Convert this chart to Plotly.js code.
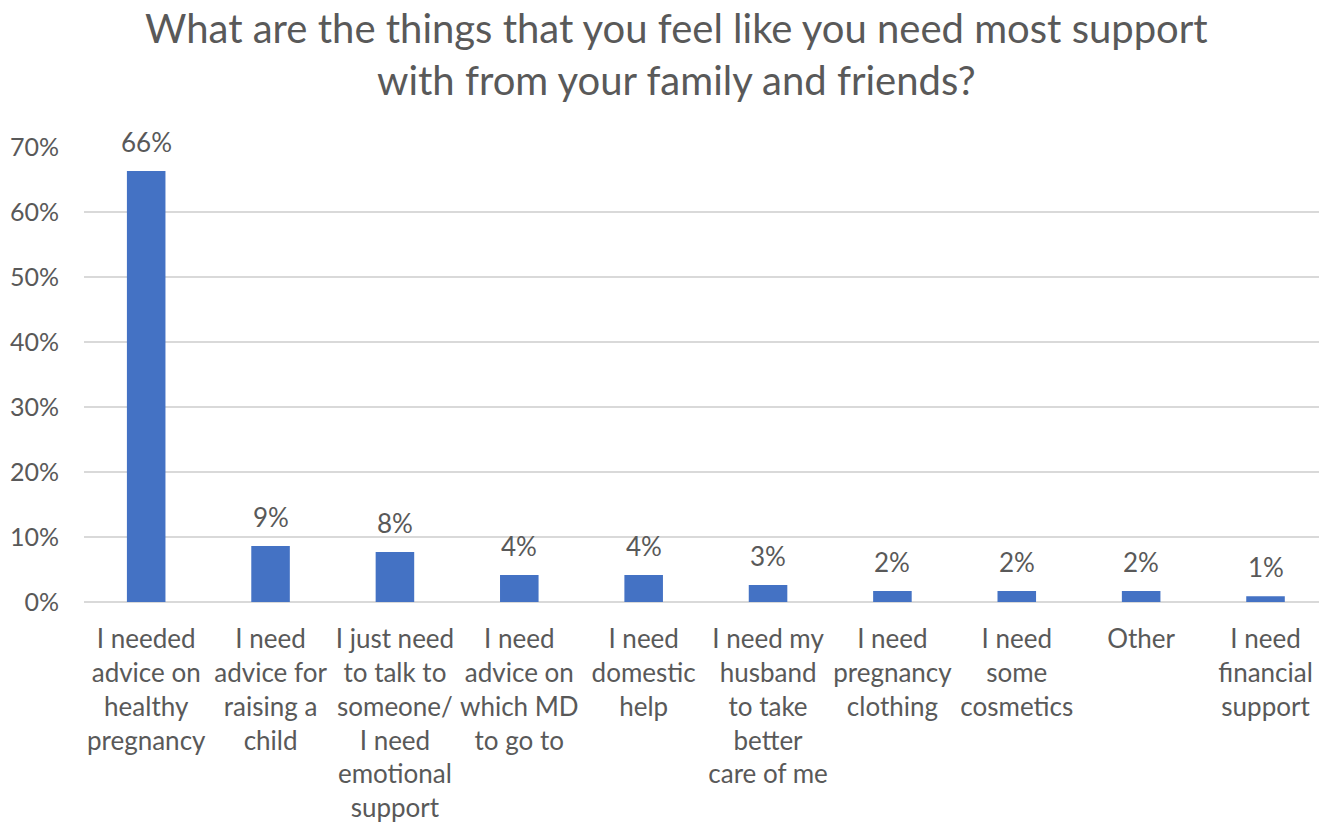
<!DOCTYPE html>
<html>
<head>
<meta charset="utf-8">
<script src="https://cdn.plot.ly/plotly-3.0.1.min.js"></script>
<style>html,body{margin:0;padding:0;background:#fff;}#chart{width:1319px;height:822px;}</style>
</head>
<body>
<div id="chart"></div>
<script>
var categories = [
  "I needed<br>advice on<br>healthy<br>pregnancy",
  "I need<br>advice for<br>raising a<br>child",
  "I just need<br>to talk to<br>someone/<br>I need<br>emotional<br>support",
  "I need<br>advice on<br>which MD<br>to go to",
  "I need<br>domestic<br>help",
  "I need my<br>husband<br>to take<br>better<br>care of me",
  "I need<br>pregnancy<br>clothing",
  "I need<br>some<br>cosmetics",
  "Other",
  "I need<br>financial<br>support"
];
var values = [66.3, 8.6, 7.7, 4.15, 4.15, 2.6, 1.7, 1.7, 1.7, 0.9];
var labels = ["66%", "9%", "8%", "4%", "4%", "3%", "2%", "2%", "2%", "1%"];
var yTicks = [0, 10, 20, 30, 40, 50, 60, 70];
var yTickText = ["0%", "10%", "20%", "30%", "40%", "50%", "60%", "70%"];
var titleText = "What are the things that you feel like you need most support<br>with from your family and friends?";

var FONT = "Lato, 'Open Sans', sans-serif";
var GRAY = "#595959";

var trace = {
  type: "bar",
  x: categories,
  y: values,
  marker: {color: "#4472C4"},
  hoverinfo: "none"
};

var valueAnnotations = categories.map(function (c, i) {
  return {
    x: c, y: values[i], xref: "x", yref: "y",
    text: labels[i], showarrow: false,
    yanchor: "bottom", yshift: 11,
    font: {family: FONT, size: 26, color: GRAY}
  };
});

var titleAnnotation = {
  text: titleText,
  xref: "paper", yref: "paper",
  x: (676 - 84) / 1235, y: 1 + (147 - 2) / 455,
  xanchor: "center", yanchor: "top",
  showarrow: false,
  font: {family: FONT, size: 40, color: GRAY}
};

var layout = {
  width: 1319,
  height: 822,
  paper_bgcolor: "#fff",
  plot_bgcolor: "#fff",
  margin: {l: 84, r: 0, t: 147, b: 220},
  bargap: 0.69,
  showlegend: false,
  annotations: [titleAnnotation].concat(valueAnnotations),
  xaxis: {
    type: "category",
    range: [-0.5, 9.43],
    tickfont: {family: FONT, size: 26, color: GRAY},
    ticks: "outside", ticklen: 14, tickcolor: "rgba(0,0,0,0)",
    showline: false, showgrid: false, zeroline: false,
    tickangle: 0, automargin: false
  },
  yaxis: {
    range: [0, 70],
    tickvals: yTicks,
    ticktext: yTickText,
    tickfont: {family: FONT, size: 25, color: GRAY},
    ticks: "outside", ticklen: 19, tickcolor: "rgba(0,0,0,0)",
    showgrid: true, gridcolor: "#D9D9D9", gridwidth: 2,
    zeroline: true, zerolinecolor: "#D9D9D9", zerolinewidth: 2,
    showline: false, automargin: false
  }
};

Plotly.newPlot("chart", [trace], layout, {displayModeBar: false, staticPlot: true});
</script>
</body>
</html>
